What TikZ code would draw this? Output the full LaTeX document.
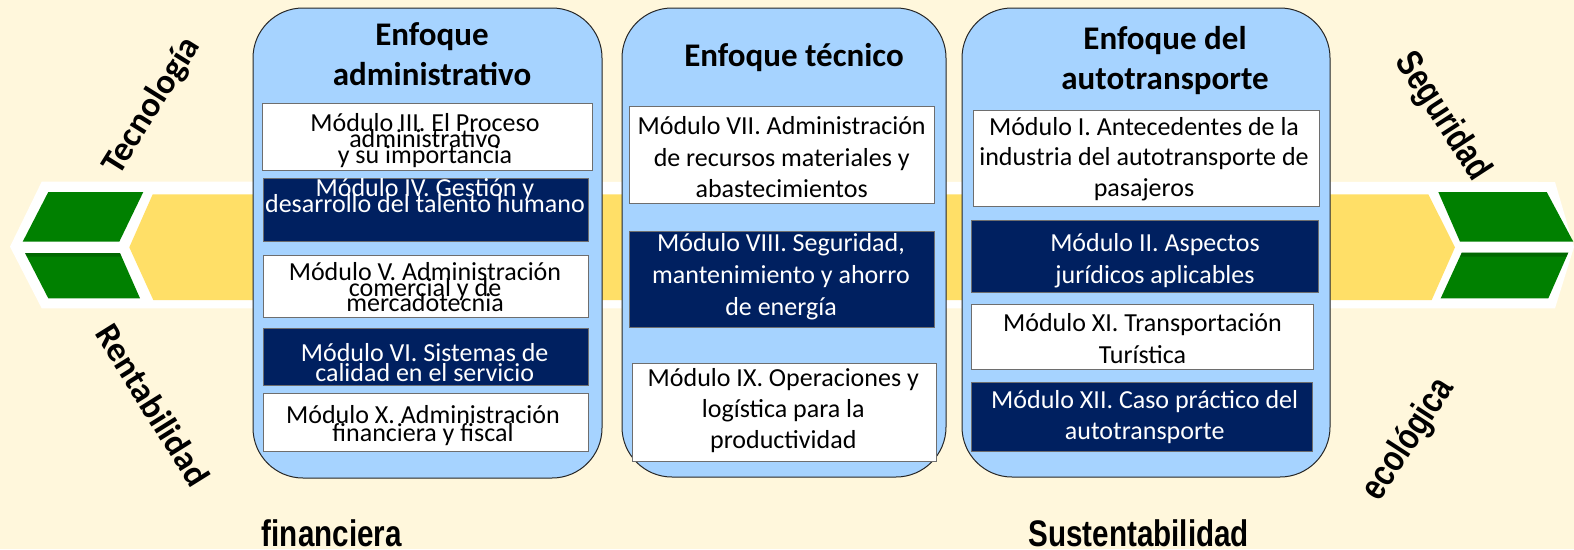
\documentclass[tikz,border=0pt]{standalone}
\usepackage{fontspec}
\setmainfont{Carlito}
\newfontfamily\narrowfont[FakeStretch=0.8]{Liberation Sans}
\definecolor{cream}{HTML}{FFF7DC}
\definecolor{bandyellow}{HTML}{FFDF67}
\definecolor{arrowgreen}{HTML}{008000}
\definecolor{navy}{HTML}{002060}
\definecolor{panelblue}{HTML}{A6D3FF}
\definecolor{boxgray}{HTML}{6E6E6E}
\begin{document}
\begin{tikzpicture}[x=1pt,y=-1pt,
  panel/.style={draw=black!85, line width=1pt, fill=panelblue, rounded corners=50pt, inner sep=0pt},
  modw/.style={draw=boxgray, line width=1pt, fill=white, inner sep=0pt},
  modn/.style={draw=boxgray, line width=1pt, fill=navy, inner sep=0pt},
  ttl/.style={align=center, anchor=base, inner sep=0pt, font=\bfseries\fontsize{33}{40}\selectfont},
  mtxt/.style={align=center, anchor=base, inner sep=0pt},
  sk/.style={font={\fontsize{26}{#1}\selectfont\lineskiplimit=-1000pt}},
  side/.style={inner sep=0pt, font=\bfseries\fontsize{35}{40}\selectfont},
  nside/.style={inner sep=0pt, font=\narrowfont\bfseries\fontsize{37}{40}\selectfont},
]
\useasboundingbox (0,0) rectangle (1574,549);
\fill[cream] (0,0) rectangle (1574,549);

% band
\fill[white] (41.7,181.7) -- (1555,182) -- (1574,247) -- (1555,308.3) -- (41.7,308.3) -- (10,246.7) -- cycle;
\fill[bandyellow] (152.7,194.3) -- (1428.3,194.3) -- (1455,247.3) -- (1431.7,300) -- (153.3,300) -- (129.3,247.3) -- cycle;
% left green
\fill[arrowgreen] (48.3,192) -- (143.3,192) -- (119.3,241.7) -- (22.7,241.7) -- cycle;
\fill[arrowgreen] (25,253) -- (120,253) -- (140,298.3) -- (48.3,298.3) -- cycle;
% right green
\fill[arrowgreen] (1438.3,192) -- (1546.7,192) -- (1573.3,241.7) -- (1460,241.7) -- cycle;
\fill[arrowgreen] (1461.7,252.7) -- (1568.3,252.7) -- (1548.3,298.3) -- (1440.7,298.3) -- cycle;
\fill[black, opacity=0.18] (25,253) -- (120,253) -- (121.5,256.5) -- (26.5,256.5) -- cycle;
\fill[black, opacity=0.18] (1461.7,252.7) -- (1568.3,252.7) -- (1566.6,256.5) -- (1460,256.5) -- cycle;

% panels
\node[panel, minimum width=349, minimum height=470] (p1) at (427.5,243) {};
\node[panel, minimum width=324, minimum height=469] (p2) at (784,242.5) {};
\node[panel, minimum width=368, minimum height=469] (p3) at (1146,242.5) {};

% titles (anchor base = baseline of last line)
\node[ttl] (t1) at (432,85) {Enfoque\\administrativo};
\node[ttl] (t2) at (794,66.7) {Enfoque técnico};
\node[ttl] (t3) at (1165,89.3) {Enfoque del\\autotransporte};

% panel 1 boxes
\node[modw, minimum width=330, minimum height=67] (b3) at (427,136.5) {};
\node[modn, minimum width=325, minimum height=63] (b4) at (425.5,209.5) {};
\node[modw, minimum width=325, minimum height=62] (b5) at (425.5,286) {};
\node[modn, minimum width=325, minimum height=57] (b6) at (425.5,356.5) {};
\node[modw, minimum width=325, minimum height=58] (b10) at (425.5,422) {};
\node[mtxt, sk=16] (x3) at (425,163.3) {Módulo III. El Proceso\\administrativo\\y su importancia};
\node[mtxt, sk=16, text=white] (x4) at (425,212.7) {Módulo IV. Gestión y\\desarrollo del talento humano};
\node[mtxt, sk=15.5] (x5) at (425,311.7) {Módulo V. Administración\\comercial y de\\mercadotecnia};
\node[mtxt, sk=20.7, text=white] (x6) at (424.7,381.7) {Módulo VI. Sistemas de\\calidad en el servicio};
\node[mtxt, sk=18.4] (x10) at (423,441.7) {Módulo X. Administración\\financiera y fiscal};

% panel 2 boxes
\node[modw, minimum width=305, minimum height=97] (b7) at (781.5,154.5) {};
\node[modn, minimum width=305, minimum height=96] (b8) at (781.5,279) {};
\node[modw, minimum width=304, minimum height=98] (b9) at (784,412) {};
\node[mtxt, sk=31.2] (x7) at (781.7,197.3) {Módulo VII. Administración\\de recursos materiales y\\abastecimientos};
\node[mtxt, sk=31.7, text=white] (x8) at (781,315) {Módulo VIII. Seguridad,\\mantenimiento y ahorro\\de energía};
\node[mtxt, sk=30.8] (x9) at (783.3,448.3) {Módulo IX. Operaciones y\\logística para la\\productividad};

% panel 3 boxes
\node[modw, minimum width=346, minimum height=96] (b1) at (1146,158) {};
\node[modn, minimum width=347, minimum height=72] (b2) at (1144.5,256) {};
\node[modw, minimum width=342, minimum height=65] (b11) at (1142,336.5) {};
\node[modn, minimum width=341, minimum height=69] (b12) at (1141.5,416.5) {};
\node[mtxt, sk=30.8] (x1) at (1144,196.7) {Módulo I. Antecedentes de la\\industria del autotransporte de\\pasajeros};
\node[mtxt, sk=31.6, text=white] (x2) at (1155,283.3) {Módulo II. Aspectos\\jurídicos aplicables};
\node[mtxt, sk=31.6] (x11) at (1142.5,363.3) {Módulo XI. Transportación\\Turística};
\node[mtxt, sk=31, text=white] (x12) at (1144.7,439.3) {Módulo XII. Caso práctico del\\autotransporte};

% side labels
\node[side, rotate=58] (tec) at (152,106) {Tecnología};
\node[side, rotate=-58] (ren) at (153,405) {Rentabilidad};
\node[nside, rotate=-57] (seg) at (1442,117) {Seguridad};
\node[nside, rotate=57] (eco) at (1409,440) {ecológica};
\node[nside, anchor=base west] (fin) at (261.7,546.7) {financiera};
\node[nside, anchor=base west] (sus) at (1028.3,546.7) {Sustentabilidad};
\end{tikzpicture}
\end{document}
